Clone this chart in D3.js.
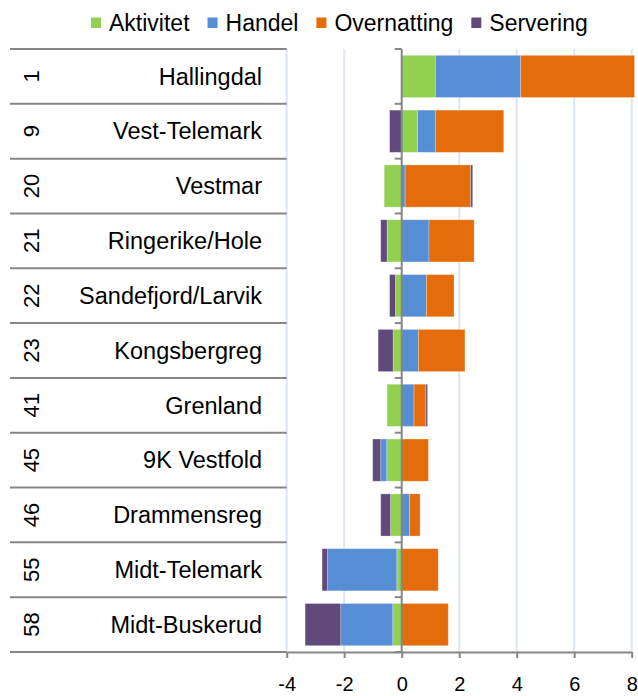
<!DOCTYPE html>
<html>
<head>
<meta charset="utf-8">
<script src="https://cdn.jsdelivr.net/npm/d3@7"></script>
<style>
  html, body { margin: 0; padding: 0; background: #fff; }
  svg { display: block; font-family: "Liberation Sans", Arial, sans-serif; }
</style>
</head>
<body>
<svg id="chart" width="638" height="696"></svg>
<script>
// Region codes and names (top to bottom)
const codes = ["1", "9", "20", "21", "22", "23", "41", "45", "46", "55", "58"];
const regions = ["Hallingdal", "Vest-Telemark", "Vestmar", "Ringerike/Hole", "Sandefjord/Larvik",
  "Kongsbergreg", "Grenland", "9K Vestfold", "Drammensreg", "Midt-Telemark", "Midt-Buskerud"];

// Series values per region
const aktivitet   = [1.17, 0.55, -0.61, -0.51, -0.22, -0.30, -0.51, -0.52, -0.39, -0.17, -0.31];
const handel      = [2.97, 0.62, 0.12, 0.95, 0.86, 0.58, 0.43, -0.21, 0.28, -2.41, -1.81];
const overnatting = [3.96, 2.38, 2.28, 1.57, 0.96, 1.62, 0.41, 0.93, 0.36, 1.27, 1.62];
const servering   = [0.00, -0.42, 0.07, -0.22, -0.20, -0.52, 0.06, -0.28, -0.34, -0.19, -1.24];

const seriesNames = ["Aktivitet", "Handel", "Overnatting", "Servering"];
const seriesColors = ["#92d050", "#558ed5", "#e46c0a", "#604a7b"];
const xTicks = [-4, -2, 0, 2, 4, 6, 8];

const rows = regions.map((r, i) => ({
  region: r, code: codes[i],
  Aktivitet: aktivitet[i], Handel: handel[i], Overnatting: overnatting[i], Servering: servering[i]
}));

const svg = d3.select("#chart");
const plot = { top: 49, bottom: 652, left: 286.7, right: 631.7 };
const labelLeft = 10;
const axisGray = "#868686";
const gridColor = "#dce6f2";

const x = d3.scaleLinear().domain([-4, 8]).range([plot.left, plot.right]);
const rowBand = d3.scaleBand().domain(regions).range([plot.top, plot.bottom]);
const y = d3.scaleBand().domain(regions).range([plot.top, plot.bottom])
  .paddingInner(0.23).paddingOuter(0.115);
const color = d3.scaleOrdinal().domain(seriesNames).range(seriesColors);

// Vertical gridlines
svg.append("g").selectAll("line").data(xTicks.filter(t => t !== 0)).join("line")
  .attr("x1", d => x(d)).attr("x2", d => x(d))
  .attr("y1", plot.top).attr("y2", plot.bottom)
  .attr("stroke", gridColor).attr("stroke-width", 2);

// Stacked bars, negatives stacked leftward from zero
const stack = d3.stack().keys(seriesNames).offset(d3.stackOffsetDiverging);
const layers = stack(rows);

svg.append("g").selectAll("g").data(layers).join("g")
  .attr("fill", d => color(d.key))
  .selectAll("rect").data(d => d).join("rect")
  .attr("x", d => x(Math.min(d[0], d[1])))
  .attr("width", d => Math.abs(x(d[1]) - x(d[0])))
  .attr("y", d => y(d.data.region))
  .attr("height", y.bandwidth())
  .attr("stroke", "rgba(255,255,255,0.35)")
  .attr("stroke-width", 0.8);

// Category separator lines across the label area
const boundaries = regions.map(r => rowBand(r)).concat([plot.bottom]);
svg.append("g").selectAll("line").data(boundaries).join("line")
  .attr("x1", labelLeft).attr("x2", plot.left)
  .attr("y1", d => d).attr("y2", d => d)
  .attr("stroke", axisGray).attr("stroke-width", 2);

// Zero axis with outward ticks at category boundaries
svg.append("line")
  .attr("x1", x(0)).attr("x2", x(0))
  .attr("y1", plot.top).attr("y2", plot.bottom)
  .attr("stroke", axisGray).attr("stroke-width", 2);
svg.append("g").selectAll("line").data(boundaries).join("line")
  .attr("x1", x(0) - 7).attr("x2", x(0))
  .attr("y1", d => d).attr("y2", d => d)
  .attr("stroke", axisGray).attr("stroke-width", 2);

// Region names
svg.append("g").selectAll("text").data(rows).join("text")
  .attr("x", 262)
  .attr("y", d => rowBand(d.region) + rowBand.bandwidth() / 2)
  .attr("dy", "0.35em")
  .attr("text-anchor", "end")
  .attr("font-size", 23.5)
  .attr("fill", "#000")
  .text(d => d.region);

// Region codes, rotated
svg.append("g").selectAll("text").data(rows).join("text")
  .attr("transform", d => `translate(39,${rowBand(d.region) + rowBand.bandwidth() / 2}) rotate(-90)`)
  .attr("text-anchor", "middle")
  .attr("font-size", 22)
  .attr("fill", "#000")
  .text(d => d.code);

// Bottom value axis
const xAxis = d3.axisBottom(x).tickValues(xTicks).tickSize(6).tickSizeOuter(0).tickFormat(d3.format("d"));
const gx = svg.append("g").attr("transform", `translate(0,${plot.bottom})`).call(xAxis);
gx.select(".domain").attr("stroke", axisGray).attr("stroke-width", 2);
gx.selectAll(".tick line").attr("stroke", axisGray).attr("stroke-width", 2);
gx.selectAll(".tick text")
  .attr("y", 39).attr("dy", 0)
  .attr("font-size", 20)
  .attr("font-family", "Liberation Sans, Arial, sans-serif")
  .attr("fill", "#000")
  .text(d => d < 0 ? "-" + Math.abs(d) : d);

// Legend
const legend = svg.append("g");
let lx = 91;
seriesNames.forEach(name => {
  legend.append("rect")
    .attr("x", lx).attr("y", 17.5).attr("width", 10).attr("height", 10.5)
    .attr("fill", color(name));
  const t = legend.append("text")
    .attr("x", lx + 18).attr("y", 30.5)
    .attr("font-size", 23).attr("fill", "#000")
    .text(name);
  lx += 18 + t.node().getComputedTextLength() + 18;
});
</script>
</body>
</html>
